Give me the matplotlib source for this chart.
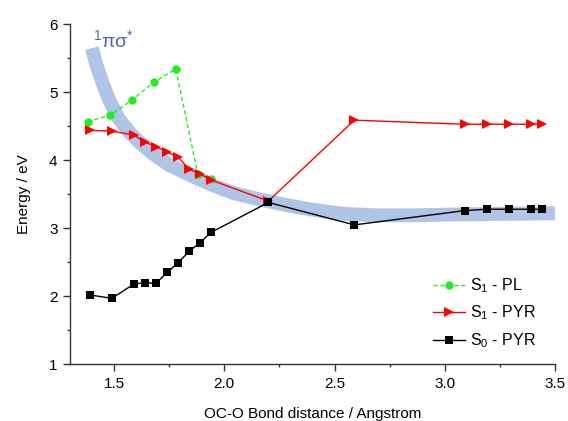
#!/usr/bin/env python3
"""Potential energy curves along the OC-O bond distance."""

import matplotlib
matplotlib.use("Agg")
import matplotlib.pyplot as plt
from matplotlib.ticker import MultipleLocator

plt.rcParams["font.family"] = ["Liberation Sans", "DejaVu Sans"]
plt.rcParams["mathtext.fontset"] = "custom"
plt.rcParams["mathtext.rm"] = "Liberation Sans"
plt.rcParams["mathtext.it"] = "Liberation Sans:italic"

# S1 - PL
pl_x = [1.38, 1.48, 1.58, 1.68, 1.78, 1.88, 1.94]
pl_y = [4.57, 4.66, 4.88, 5.15, 5.34, 3.80, 3.73]

# S1 - PYR
s1_x = [1.39, 1.49, 1.59, 1.64, 1.69, 1.74, 1.79, 1.84, 1.89, 1.94,
        2.20, 2.59, 3.09, 3.19, 3.29, 3.39, 3.44]
s1_y = [4.44, 4.43, 4.37, 4.27, 4.20, 4.12, 4.05, 3.87, 3.80, 3.71,
        3.40, 4.59, 4.53, 4.53, 4.53, 4.53, 4.53]

# S0 - PYR
s0_x = [1.39, 1.49, 1.59, 1.64, 1.69, 1.74, 1.79, 1.84, 1.89, 1.94,
        2.20, 2.59, 3.09, 3.19, 3.29, 3.39, 3.44]
s0_y = [2.02, 1.97, 2.18, 2.20, 2.19, 2.35, 2.49, 2.66, 2.79, 2.94,
        3.38, 3.05, 3.26, 3.28, 3.28, 3.28, 3.28]

# hand-drawn 1pi-sigma* band
band_x = [1.40, 1.42, 1.45, 1.48, 1.52, 1.57, 1.62, 1.67, 1.75, 1.86,
          1.95, 2.04, 2.14, 2.24, 2.35, 2.45, 2.55, 2.70, 2.85, 3.00,
          3.20, 3.50]
band_y = [5.65, 5.40, 5.12, 4.87, 4.62, 4.41, 4.25, 4.11, 3.93, 3.76,
          3.63, 3.52, 3.44, 3.37, 3.30, 3.25, 3.21, 3.19, 3.19, 3.20,
          3.21, 3.22]

fig = plt.figure(figsize=(5.68, 4.21), dpi=100)
ax = fig.add_axes([0.1232, 0.1347, 0.8538, 0.8076])

ax.plot(band_x, band_y, color="#b0c4e6", lw=10, solid_capstyle="butt",
        solid_joinstyle="round", zorder=1)
ax.text(1.405, 5.77, r"$^\mathregular{1}$πσ$^\mathregular{*}$", color="#4a68a8",
        fontsize=14, ha="left", va="center", zorder=2)

ax.plot(pl_x, pl_y, color="#22ee22", ls=(0, (3, 2)), lw=1, marker="o",
        markersize=6, markeredgewidth=0, label=r"S$_\mathregular{1}$ - PL", zorder=3)
ax.plot(s1_x, s1_y, color="red", lw=1, marker=">", markersize=6.5,
        markeredgewidth=0, label=r"S$_\mathregular{1}$ - PYR", zorder=4)
ax.plot(s0_x, s0_y, color="black", lw=1, marker="s", markersize=5.5,
        markeredgewidth=0, label=r"S$_\mathregular{0}$ - PYR", zorder=4)

ax.set_xlim(1.3, 3.5)
ax.set_ylim(1, 6)
ax.xaxis.set_major_locator(MultipleLocator(0.5))
ax.xaxis.set_minor_locator(MultipleLocator(0.25))
ax.yaxis.set_major_locator(MultipleLocator(1))
ax.yaxis.set_minor_locator(MultipleLocator(0.5))
ax.xaxis.set_major_formatter(plt.FormatStrFormatter("%.1f"))

for side in ("top", "right"):
    ax.spines[side].set_visible(False)
for side in ("left", "bottom"):
    ax.spines[side].set_color("#333333")
    ax.spines[side].set_linewidth(1)
ax.tick_params(which="major", length=5, width=1, color="#333333",
               labelsize=11, pad=4)
ax.tick_params(which="minor", length=2.5, width=1, color="#333333")

ax.set_xlabel("OC-O Bond distance / Angstrom", fontsize=11, labelpad=12)
ax.set_ylabel("Energy / eV", fontsize=11, labelpad=13)

ax.legend(loc="lower right", bbox_to_anchor=(0.99, 0.0), frameon=False,
          fontsize=11.5, handlelength=2.0, handletextpad=0.3, labelspacing=0.55)

fig.savefig("out.png", dpi=100)
